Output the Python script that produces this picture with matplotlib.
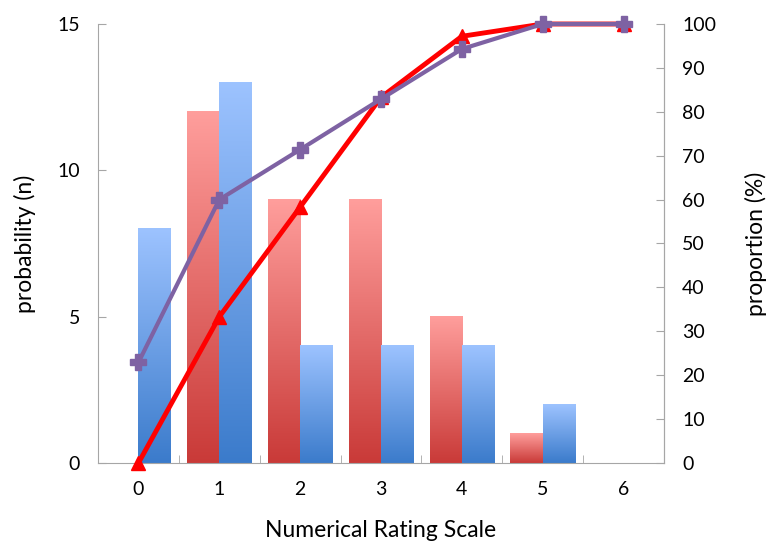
import numpy as np
import matplotlib.pyplot as plt
from matplotlib.colors import LinearSegmentedColormap

plt.rcParams['font.family'] = ['Lato', 'DejaVu Sans']

# values
scale = [0, 1, 2, 3, 4, 5, 6]
redCounts = [0, 12, 9, 9, 5, 1, 0]
blueCounts = [8, 13, 4, 4, 4, 2, 0]
redProportion = [0, 33.3, 58.3, 83.3, 97.2, 100, 100]
purpleProportion = [22.9, 60.0, 71.4, 82.9, 94.3, 100, 100]

spineColor = '#A6A6A6'
redMap = LinearSegmentedColormap.from_list('reds', ['#C93A38', '#FF9E9C'])
blueMap = LinearSegmentedColormap.from_list('blues', ['#3B7BCB', '#9DC3FF'])

fig = plt.figure(figsize=(7.69, 5.45), dpi=100)
ax = fig.add_axes([98 / 769, 1 - 463 / 545, 566 / 769, 439 / 545])

x = np.array(scale)
barW = 0.4
redBars = ax.bar(x - barW / 2, redCounts, barW, color='none', zorder=1)
blueBars = ax.bar(x + barW / 2, blueCounts, barW, color='none', zorder=1)

# fill each bar with its own vertical gradient (light at top, dark at bottom)
grad = np.linspace(0, 1, 256).reshape(-1, 1)
for bars, cmap in ((redBars, redMap), (blueBars, blueMap)):
    for b in bars:
        h = b.get_height()
        if h <= 0:
            continue
        x0 = b.get_x()
        ax.imshow(grad, extent=[x0, x0 + b.get_width(), 0, h], origin='lower',
                  aspect='auto', cmap=cmap, zorder=1)

ax.set_xlim(-0.5, 6.5)
ax.set_ylim(0, 15)
ax.set_yticks([0, 5, 10, 15])
ax.set_xticks(scale)
ax.set_xticks(np.arange(0.5, 6, 1), minor=True)
ax.tick_params(axis='x', which='major', length=0, labelsize=14, pad=13)
ax.tick_params(axis='x', which='minor', direction='in', length=6, color=spineColor)
ax.tick_params(axis='y', direction='in', length=6, color=spineColor, labelsize=14, pad=13)
ax.set_xlabel('Numerical Rating Scale', fontsize=16.5, labelpad=16)
ax.set_ylabel('probability (n)', fontsize=16.5, labelpad=15)

for side in ('left', 'bottom', 'right'):
    ax.spines[side].set_color(spineColor)
ax.spines['top'].set_visible(False)

ax2 = ax.twinx()
ax2.set_ylim(0, 100)
ax2.set_yticks(range(0, 101, 10))
ax2.tick_params(axis='y', direction='in', length=6, color=spineColor, labelsize=14, pad=13)
ax2.set_ylabel('proportion (%)', fontsize=16.5, labelpad=21)
ax2.spines['top'].set_visible(False)
ax2.spines['right'].set_color(spineColor)
ax2.spines['left'].set_visible(False)
ax2.spines['bottom'].set_visible(False)

ax2.plot(scale, redProportion, color='#FF0000', linewidth=3.5, marker='^',
         markersize=10, clip_on=False, zorder=3)
ax2.plot(scale, purpleProportion, color='#7E62A3', linewidth=3, marker='P',
         markersize=11, clip_on=False, zorder=4)

fig.savefig('out.png', dpi=100)
